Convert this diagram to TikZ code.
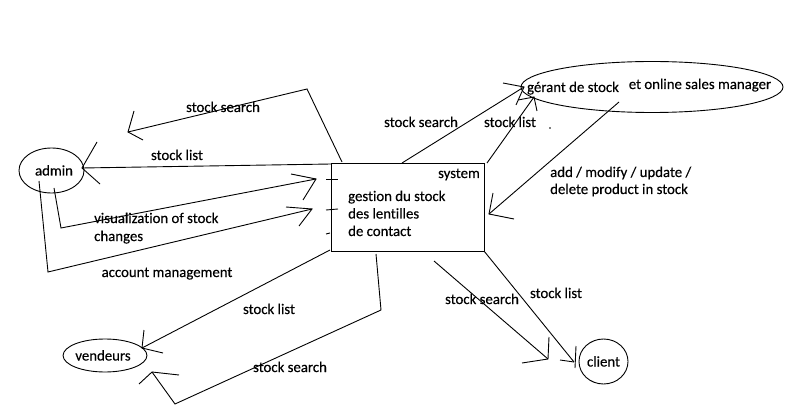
\documentclass[tikz,border=0pt]{standalone}
\usepackage{fontspec}
\setmainfont{Carlito}[Ligatures=NoCommon, FakeBold=0.3]
\usetikzlibrary{shapes.geometric}
\tikzset{
  ln/.style={line width=0.9pt, line join=miter},
  txt/.style={font=\fontsize{14.8}{17}\selectfont, text height=11pt, text depth=1pt},
  lbl/.style={txt, inner sep=0pt},
  actor/.style={txt, draw, ellipse, line width=0.9pt, inner sep=0pt, outer sep=0pt},
  sysbox/.style={draw, rectangle, line width=0.9pt, inner sep=0pt, outer sep=0pt}
}
\begin{document}
\begin{tikzpicture}[x=1pt,y=-1pt]
\useasboundingbox (0,0) rectangle (795,414);
% actors
\node[actor, minimum width=65pt, minimum height=45pt] (admin) at (51.5,170.5) {\hspace*{5pt}admin};
\node[actor, minimum width=74pt, minimum height=33pt] (vend) at (105,355.5) {vendeurs\hspace*{4pt}};
\node[actor, minimum width=49pt, minimum height=45pt] (client) at (603.5,361.5) {client};
\node[actor, minimum width=262pt, minimum height=51pt] (gerant) at (652,87) {};
\node[lbl] (gerantt) at (573,87) {gérant de stock};
\node[lbl] (onlinet) at (700,84) {et online sales manager};
% system box
\node[sysbox, minimum width=153pt, minimum height=88pt] (sys) at (407.5,207) {};
\node[lbl] (systemt) at (459,173) {system};
\node[lbl, anchor=west] (g1) at (348,196) {gestion du stock};
\node[lbl, anchor=west] (g2) at (348,213.5) {des lentilles};
\node[lbl, anchor=west] (g3) at (348,231) {de contact};
% labels
\node[lbl] (l1) at (223,107) {stock search};
\node[lbl] (l2) at (177,155) {stock list};
\node[lbl, anchor=west] (l3a) at (94,218) {visualization of stock};
\node[lbl, anchor=west] (l3b) at (94,236) {changes};
\node[lbl] (l4) at (167,272) {account management};
\node[lbl] (l5) at (421,122) {stock search};
\node[lbl] (l6) at (510,122) {stock list};
\node[lbl, anchor=west] (l7a) at (550,172) {add / modify / update /};
\node[lbl, anchor=west] (l7b) at (550,189) {delete product in stock};
\node[lbl] (l8) at (269,309) {stock list};
\node[lbl] (l9) at (290,367) {stock search};
\node[lbl] (l10) at (482,299) {stock search};
\node[lbl] (l11) at (556,293) {stock list};
% coordinates
\coordinate (c1s) at (331,164); \coordinate (c1t) at (82,168);
\coordinate (c1a) at (97,142); \coordinate (c1b) at (100,184);
\coordinate (d1s) at (342,162); \coordinate (d1m) at (307,89); \coordinate (d1t) at (128,132);
\coordinate (d1a) at (134,111); \coordinate (d1b) at (143,140);
\coordinate (e1s) at (54,188); \coordinate (e1m) at (61,228); \coordinate (e1t) at (316,179);
\coordinate (e1a) at (291,174); \coordinate (e1b) at (303,200);
\coordinate (e1k) at (326,179); \coordinate (e1l) at (338,179);
\coordinate (f1s) at (39,181); \coordinate (f1m) at (48,272); \coordinate (f1t) at (312,209);
\coordinate (f1a) at (286,207); \coordinate (f1b) at (299,226);
\coordinate (f1k) at (326,210); \coordinate (f1l) at (338,209);
\coordinate (t3k) at (326,234); \coordinate (t3l) at (330,233);
\coordinate (g1s) at (402,163); \coordinate (g1t) at (524,87);
\coordinate (g1a) at (503,83); \coordinate (g1b) at (516,105);
\coordinate (h1s) at (487,163); \coordinate (h1t) at (534,97);
\coordinate (h1a) at (518,100); \coordinate (h1b) at (537,111);
\coordinate (i1s) at (619,102); \coordinate (i1t) at (489,214);
\coordinate (i1a) at (493,193); \coordinate (i1b) at (514,219);
\coordinate (j1s) at (330,250); \coordinate (j1t) at (142,348);
\coordinate (j1a) at (144,330); \coordinate (j1b) at (163,353);
\coordinate (k1s) at (376,254); \coordinate (k1m) at (381,310); \coordinate (k1n) at (175,404); \coordinate (k1t) at (152,372);
\coordinate (k1a) at (139,384); \coordinate (k1b) at (179,375);
\coordinate (m1s) at (434,261); \coordinate (m1t) at (548,359);
\coordinate (m1a) at (549,337); \coordinate (m1b) at (522,363);
\coordinate (n1s) at (484,251); \coordinate (n1t) at (574,362);
\coordinate (n1a) at (576,346); \coordinate (n1b) at (575,368); \coordinate (n1c) at (560,360);
% connectors
\draw[ln] (c1s) -- (c1t); \draw[ln] (c1a) -- (c1t) -- (c1b);
\draw[ln] (d1s) -- (d1m) -- (d1t); \draw[ln] (d1a) -- (d1t) -- (d1b);
\draw[ln] (e1s) -- (e1m) -- (e1t); \draw[ln] (e1a) -- (e1t) -- (e1b); \draw[ln] (e1k) -- (e1l);
\draw[ln] (f1s) -- (f1m) -- (f1t); \draw[ln] (f1a) -- (f1t) -- (f1b); \draw[ln] (f1k) -- (f1l);
\draw[ln] (t3k) -- (t3l);
\draw[ln] (g1s) -- (g1t); \draw[ln] (g1a) -- (g1t) -- (g1b);
\draw[ln] (h1s) -- (h1t); \draw[ln] (h1a) -- (h1t) -- (h1b);
\draw[ln] (i1s) -- (i1t); \draw[ln] (i1a) -- (i1t) -- (i1b);
\draw[ln] (j1s) -- (j1t); \draw[ln] (j1a) -- (j1t) -- (j1b);
\draw[ln] (k1s) -- (k1m) -- (k1n) -- (k1t); \draw[ln] (k1a) -- (k1t) -- (k1b);
\draw[ln] (m1s) -- (m1t); \draw[ln] (m1a) -- (m1t) -- (m1b);
\draw[ln] (n1s) -- (n1t); \draw[ln] (n1a) -- (n1b); \draw[ln] (n1c) -- (n1t);
\fill (550,128) circle (0.8pt);
\end{tikzpicture}
\end{document}
